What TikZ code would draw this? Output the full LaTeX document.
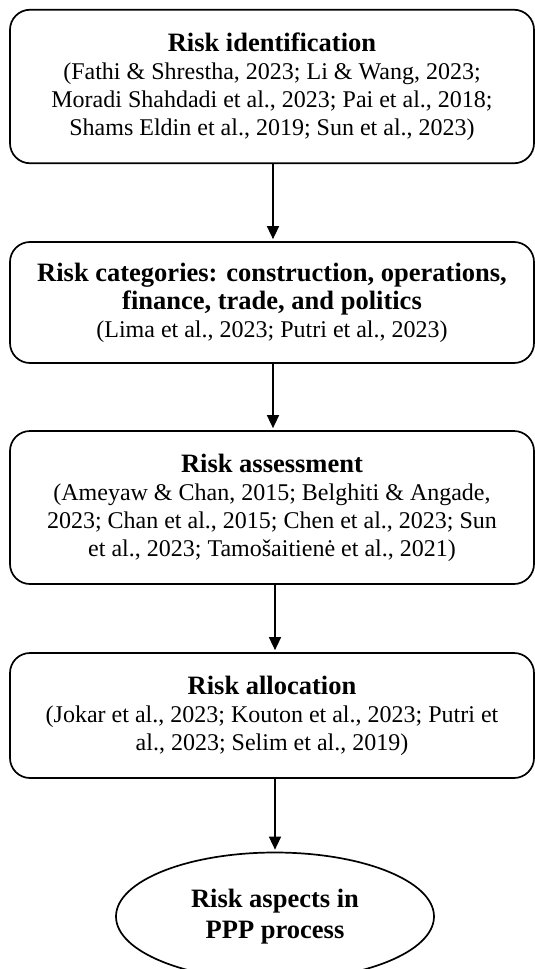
\documentclass[tikz,border=0pt]{standalone}
\usepackage{fontspec}
\setmainfont{Liberation Serif}
\usetikzlibrary{arrows.meta,shapes.geometric}
\newcommand{\citef}{\fontsize{24}{27.6}\selectfont}
\newcommand{\titlef}{\fontsize{26.5}{30.5}\selectfont\bfseries}
\begin{document}
\begin{tikzpicture}[x=1pt,y=-1pt,
  stagebox/.style={draw, line width=1.7pt, rounded corners=20pt, minimum width=524pt,
    align=center, inner sep=0pt, font=\citef},
  goal/.style={draw, ellipse, line width=1.7pt, minimum width=318pt, minimum height=128pt,
    inner sep=0pt, align=center, font=\titlef},
  flow/.style={line width=1.5pt, -{Triangle[width=12pt,length=13pt]}, shorten >=2pt}]
\useasboundingbox (0,0) rectangle (535,969);
\node[stagebox, minimum height=153.5pt] (b1) at (272,86.5)
  {{\titlef Risk identification}\\[1pt]
   (Fathi \& Shrestha, 2023; Li \& Wang, 2023;\\
   Moradi Shahdadi et al., 2023; Pai et al., 2018;\\
   Shams Eldin et al., 2019; Sun et al., 2023)};
\node[stagebox, minimum height=121pt] (b2) at (272,302.5)
  {{\titlef Risk categories: construction, operations,}\\[1pt]
   {\titlef finance, trade, and politics}\\[0pt]
   (Lima et al., 2023; Putri et al., 2023)};
\node[stagebox, minimum height=153pt] (b3) at (272,507.5)
  {{\titlef Risk assessment}\\[1pt]
   (Ameyaw \& Chan, 2015; Belghiti \& Angade,\\
   2023; Chan et al., 2015; Chen et al., 2023; Sun\\
   et al., 2023; Tamošaitienė et al., 2021)};
\node[stagebox, minimum height=125pt] (b4) at (272,715.5)
  {{\titlef Risk allocation}\\[1pt]
   (Jokar et al., 2023; Kouton et al., 2023; Putri et\\
   al., 2023; Selim et al., 2019)};
\node[goal] (g) at (275,916.5) {Risk aspects in\\PPP process};
\draw[flow] (b1.south -| 273,0) -- (b2.north -| 273,0);
\draw[flow] (b2.south -| 273,0) -- (b3.north -| 273,0);
\draw[flow] (b3.south -| 275,0) -- (b4.north -| 275,0);
\draw[flow] (b4.south -| 275,0) -- (g.north);
\end{tikzpicture}
\end{document}
